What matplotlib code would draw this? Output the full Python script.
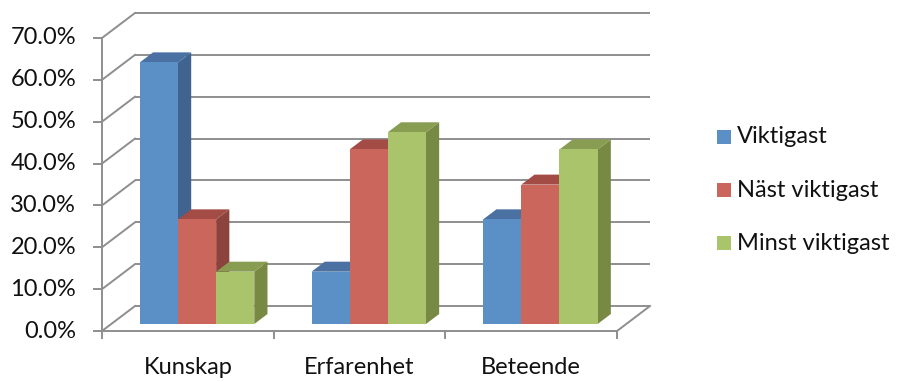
import matplotlib
matplotlib.use("Agg")
import matplotlib.pyplot as plt
from matplotlib.patches import Polygon, Rectangle

categories = ["Kunskap", "Erfarenhet", "Beteende"]
series_names = ["Viktigast", "Näst viktigast", "Minst viktigast"]
viktigast = [62.5, 12.5, 25.0]
nast_viktigast = [25.0, 41.7, 33.3]
minst_viktigast = [12.5, 45.8, 41.7]
series_values = [viktigast, nast_viktigast, minst_viktigast]
y_ticks = [0, 10, 20, 30, 40, 50, 60, 70]

front_c = ["#5b90c6", "#ca665b", "#aac46c"]
side_c = ["#40648f", "#8c433d", "#788944"]
top_c = ["#4a71a2", "#a34c45", "#889d52"]
grid_c = "#8e8e8e"
FS = 17

W, H, DPI = 901, 381, 100
fig = plt.figure(figsize=(W / DPI, H / DPI), dpi=DPI)
ax = fig.add_axes([0, 0, 1, 1])
ax.axis("off")

PX_X = 171.67   # pixels per category
PX_Y = 4.186    # pixels per percent
X0, Y0 = 102, 331
ax.set_xlim(-X0 / PX_X, (W - X0) / PX_X)
ax.set_ylim(-(H - Y0) / PX_Y, Y0 / PX_Y)

DX = 33 / PX_X
DY = 25 / PX_Y
ncat = len(categories)


def proj(x, y, d):
    return (x + d * DX, y + d * DY)


lw = 1.4
# back wall gridlines and left wall diagonals
for v in y_ticks:
    a, b = proj(0, v, 1), proj(ncat, v, 1)
    ax.plot([a[0], b[0]], [a[1], b[1]], color=grid_c, lw=lw, zorder=1, solid_capstyle="butt")
    c = proj(0, v, 0)
    ax.plot([c[0], a[0]], [c[1], a[1]], color=grid_c, lw=lw, zorder=1)
    # y tick mark
    ax.plot([c[0] - 8 / PX_X, c[0]], [c[1], c[1]], color=grid_c, lw=lw, zorder=1)
    ax.annotate(f"{v:.1f}%", xy=c, xytext=(-26, 0), textcoords="offset pixels",
                ha="right", va="center", fontsize=FS, family="Lato", color="#111111")

# front axis
a, b = proj(0, 0, 0), proj(0, y_ticks[-1], 0)
ax.plot([a[0], b[0]], [a[1], b[1]], color=grid_c, lw=lw, zorder=1)
# floor front and right edges
a, b, c = proj(0, 0, 0), proj(ncat, 0, 0), proj(ncat, 0, 1)
ax.plot([a[0], b[0], c[0]], [a[1], b[1], c[1]], color=grid_c, lw=lw, zorder=1)
# category ticks
for i in range(ncat + 1):
    ax.plot([i, i], [0, -7 / PX_Y], color=grid_c, lw=lw, zorder=1)

# bars
bw = 1 / 4.5
d0, d1 = 0.28, 0.68
z = 2
for i in range(ncat):
    for j, vals in enumerate(series_values):
        v = vals[i]
        x0 = i + 0.75 * bw + j * bw
        x1 = x0 + bw
        side = [proj(x1, 0, d0), proj(x1, 0, d1), proj(x1, v, d1), proj(x1, v, d0)]
        top = [proj(x0, v, d0), proj(x1, v, d0), proj(x1, v, d1), proj(x0, v, d1)]
        front = [proj(x0, 0, d0), proj(x1, 0, d0), proj(x1, v, d0), proj(x0, v, d0)]
        ax.add_patch(Polygon(side, closed=True, facecolor=side_c[j], edgecolor="none", zorder=z))
        ax.add_patch(Polygon(top, closed=True, facecolor=top_c[j], edgecolor="none", zorder=z))
        ax.add_patch(Polygon(front, closed=True, facecolor=front_c[j], edgecolor="none", zorder=z + 0.5))
        z += 1
    ax.annotate(categories[i], xy=(i + 0.5, 0), xytext=(0, -37), textcoords="offset pixels",
                ha="center", va="center", fontsize=FS, family="Lato", color="#111111")

# legend
for j, name in enumerate(series_names):
    yc = 137 + j * 53
    fig.add_artist(Rectangle((717 / W, 1 - (yc + 7) / H), 14 / W, 14 / H,
                             transform=fig.transFigure, facecolor=front_c[j], edgecolor="none"))
    fig.text(737 / W, 1 - yc / H, name, ha="left", va="center", fontsize=FS,
             family="Lato", color="#111111")

fig.savefig("out.png", dpi=DPI)
